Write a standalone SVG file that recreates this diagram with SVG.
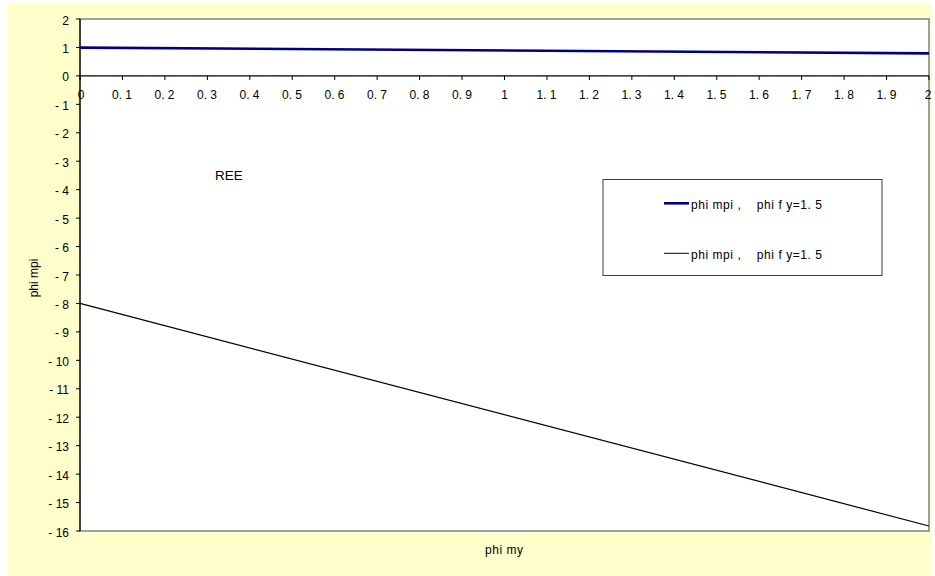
<svg xmlns="http://www.w3.org/2000/svg" width="935" height="576" viewBox="0 0 935 576">
<style>
text{font-family:"Liberation Sans",Arial,sans-serif;font-size:12px;fill:#000}
.yl{text-anchor:end}
.xl{text-anchor:middle}
.tk{stroke:#000;stroke-width:1}
.pre{white-space:pre}
</style>
<rect x="0" y="0" width="935" height="576" fill="#fff"/>
<rect x="8" y="4" width="924" height="572" fill="#FFFFCC"/>
<g id="plot-area">
<rect x="80" y="19" width="849" height="512" fill="#fff" stroke="#808080" stroke-width="1.5"/>
<line x1="80" y1="19" x2="80" y2="531" stroke="#000" stroke-width="1.2"/>
<line x1="80" y1="75.9" x2="929" y2="75.9" stroke="#000" stroke-width="1.2"/>
</g>
<g id="y-axis">
<g class="tk">
<line x1="76" y1="19" x2="80" y2="19"/><line x1="76" y1="47.44" x2="80" y2="47.44"/><line x1="76" y1="75.89" x2="80" y2="75.89"/><line x1="76" y1="104.33" x2="80" y2="104.33"/><line x1="76" y1="132.78" x2="80" y2="132.78"/><line x1="76" y1="161.22" x2="80" y2="161.22"/><line x1="76" y1="189.67" x2="80" y2="189.67"/><line x1="76" y1="218.11" x2="80" y2="218.11"/><line x1="76" y1="246.56" x2="80" y2="246.56"/><line x1="76" y1="275" x2="80" y2="275"/><line x1="76" y1="303.44" x2="80" y2="303.44"/><line x1="76" y1="331.89" x2="80" y2="331.89"/><line x1="76" y1="360.33" x2="80" y2="360.33"/><line x1="76" y1="388.78" x2="80" y2="388.78"/><line x1="76" y1="417.22" x2="80" y2="417.22"/><line x1="76" y1="445.67" x2="80" y2="445.67"/><line x1="76" y1="474.11" x2="80" y2="474.11"/><line x1="76" y1="502.56" x2="80" y2="502.56"/><line x1="76" y1="531" x2="80" y2="531"/>
</g>
<text class="yl" x="69" y="24.5">2</text>
<text class="yl" x="69" y="52.9">1</text>
<text class="yl" x="69" y="81.4">0</text>
<text class="yl pre" x="69" y="109.8">- 1</text>
<text class="yl pre" x="69" y="138.3">- 2</text>
<text class="yl pre" x="69" y="166.7">- 3</text>
<text class="yl pre" x="69" y="195.2">- 4</text>
<text class="yl pre" x="69" y="223.6">- 5</text>
<text class="yl pre" x="69" y="252.1">- 6</text>
<text class="yl pre" x="69" y="280.5">- 7</text>
<text class="yl pre" x="69" y="308.9">- 8</text>
<text class="yl pre" x="69" y="337.4">- 9</text>
<text class="yl pre" x="69" y="365.8">- 10</text>
<text class="yl pre" x="69" y="394.3">- 11</text>
<text class="yl pre" x="69" y="422.7">- 12</text>
<text class="yl pre" x="69" y="451.2">- 13</text>
<text class="yl pre" x="69" y="479.6">- 14</text>
<text class="yl pre" x="69" y="508.1">- 15</text>
<text class="yl pre" x="69" y="536.5">- 16</text>
<text class="xl" transform="translate(38,278) rotate(-90)">phi mpi</text>
</g>
<g id="x-axis">
<g class="tk">
<line x1="80" y1="76" x2="80" y2="80"/><line x1="122.45" y1="76" x2="122.45" y2="80"/><line x1="164.9" y1="76" x2="164.9" y2="80"/><line x1="207.35" y1="76" x2="207.35" y2="80"/><line x1="249.8" y1="76" x2="249.8" y2="80"/><line x1="292.25" y1="76" x2="292.25" y2="80"/><line x1="334.7" y1="76" x2="334.7" y2="80"/><line x1="377.15" y1="76" x2="377.15" y2="80"/><line x1="419.6" y1="76" x2="419.6" y2="80"/><line x1="462.05" y1="76" x2="462.05" y2="80"/><line x1="504.5" y1="76" x2="504.5" y2="80"/><line x1="546.95" y1="76" x2="546.95" y2="80"/><line x1="589.4" y1="76" x2="589.4" y2="80"/><line x1="631.85" y1="76" x2="631.85" y2="80"/><line x1="674.3" y1="76" x2="674.3" y2="80"/><line x1="716.75" y1="76" x2="716.75" y2="80"/><line x1="759.2" y1="76" x2="759.2" y2="80"/><line x1="801.65" y1="76" x2="801.65" y2="80"/><line x1="844.1" y1="76" x2="844.1" y2="80"/><line x1="886.55" y1="76" x2="886.55" y2="80"/><line x1="929" y1="76" x2="929" y2="80"/>
</g>
<text class="xl" x="81" y="98.5">0</text>
<text class="xl pre" x="122" y="98.5">0. 1</text>
<text class="xl pre" x="164.5" y="98.5">0. 2</text>
<text class="xl pre" x="207" y="98.5">0. 3</text>
<text class="xl pre" x="249.5" y="98.5">0. 4</text>
<text class="xl pre" x="292" y="98.5">0. 5</text>
<text class="xl pre" x="334.5" y="98.5">0. 6</text>
<text class="xl pre" x="377" y="98.5">0. 7</text>
<text class="xl pre" x="419.5" y="98.5">0. 8</text>
<text class="xl pre" x="462" y="98.5">0. 9</text>
<text class="xl" x="504.5" y="98.5">1</text>
<text class="xl pre" x="546.5" y="98.5">1. 1</text>
<text class="xl pre" x="589" y="98.5">1. 2</text>
<text class="xl pre" x="631.5" y="98.5">1. 3</text>
<text class="xl pre" x="674" y="98.5">1. 4</text>
<text class="xl pre" x="716.5" y="98.5">1. 5</text>
<text class="xl pre" x="759" y="98.5">1. 6</text>
<text class="xl pre" x="801.5" y="98.5">1. 7</text>
<text class="xl pre" x="844" y="98.5">1. 8</text>
<text class="xl pre" x="886.5" y="98.5">1. 9</text>
<text class="xl" x="928" y="98.5">2</text>
<text class="xl" x="504" y="554" textLength="38" lengthAdjust="spacing">phi my</text>
</g>
<g id="series">
<line x1="80" y1="47.6" x2="929" y2="53.4" stroke="#000080" stroke-width="2.6"/>
<line x1="80" y1="303.4" x2="929" y2="526" stroke="#000" stroke-width="1.2"/>
</g>
<g id="ree-label"><text x="215" y="179.5" style="font-size:13.5px">REE</text></g>
<g id="legend">
<rect x="603" y="179.5" width="279" height="96" fill="#fff" stroke="#404040" stroke-width="1"/>
<line x1="664" y1="203.3" x2="689" y2="203.3" stroke="#000080" stroke-width="2.6"/>
<text class="pre" x="691" y="208.5" textLength="131" lengthAdjust="spacing">phi mpi ,    phi f y=1. 5</text>
<line x1="664" y1="253.3" x2="689" y2="253.3" stroke="#000" stroke-width="1"/>
<text class="pre" x="691" y="258.5" textLength="131" lengthAdjust="spacing">phi mpi ,    phi f y=1. 5</text>
</g>
</svg>
